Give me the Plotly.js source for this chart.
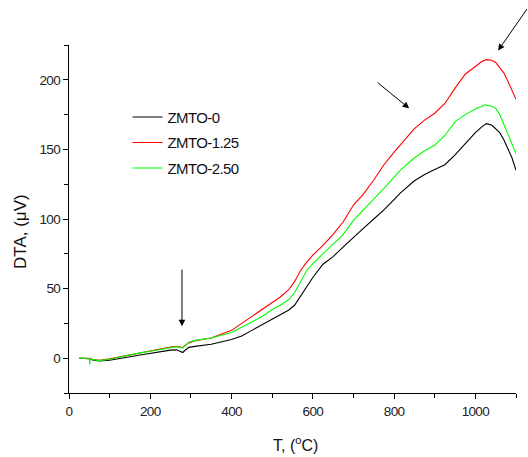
<!DOCTYPE html>
<html>
<head>
<meta charset="utf-8">
<script src="https://cdn.plot.ly/plotly-3.0.1.min.js"></script>
<style>
html,body{margin:0;padding:0;background:#fff}
#chart{width:528px;height:457px}
#chart .xtick text, #chart .ytick text{letter-spacing:-0.7px}
#chart .legendtext{letter-spacing:-0.6px}
</style>
</head>
<body>
<div id="chart"></div>
<script>
const seriesNames = ["ZMTO-0", "ZMTO-1.25", "ZMTO-2.50"];

const tBlack = [25,40,50,60,75,100,125,150,175,200,225,250,265,275,280,285,295,310,350,400,425,450,475,500,520,540,555,570,585,600,625,650,675,700,725,750,775,800,815,850,875,900,925,950,975,1000,1015,1027,1040,1050,1060,1070,1080,1090,1100];
const dtaBlack = [0,0,-0.3,-1.5,-2,-1.5,-0.5,1,2.3,3.5,4.8,5.8,6,4.8,4.1,5.5,7.8,8.5,10,13.5,16,20,24,28,31,34.5,38,45,51,58,67.5,73,80,87,93.5,100,106.5,114,118.6,127.5,132,135.5,139,146,154,162,166,168.5,167.5,165,162,157,151,144,135];

const tRed = [25,40,50,60,75,100,125,150,175,200,225,250,265,275,280,285,295,310,350,400,425,450,475,500,520,540,555,570,585,600,625,650,675,700,725,750,775,800,815,850,875,900,925,950,975,1000,1015,1027,1040,1050,1060,1070,1080,1090,1100];
const dtaRed = [0,0,-0.3,-1,-1.5,-0.5,1,2.5,4,5.3,6.5,8,8.5,7.8,7.7,9,11,12.5,14.5,20,25,30,35,40,44,49,55,63,69,74,81,89,98,110,118,128,139,148,153,165,171,176,183,194,204,210,213,214.5,214,212.5,209,205,199,192,186];

const tGreen = [25,40,50,51,52,60,75,100,125,150,175,200,225,250,265,275,280,285,295,310,350,400,425,450,475,500,520,540,555,570,585,600,625,650,675,700,725,750,775,800,815,850,875,900,925,950,975,1000,1024,1040,1050,1060,1070,1080,1090,1100];
const dtaGreen = [0,0,0,-4.5,-0.5,-1,-1.7,-0.8,0.8,2.3,3.8,5,6.3,7.8,8.3,7.5,7.4,9,11.5,12.8,14.5,18.5,22,26,30,35,38,42,47,55,63,68,75,82,89,99,106.5,114,122,130,135,144,149,153,160,170,175,179,182,181,179.5,175,168,161,154,147];

const xTickVals = [0,200,400,600,800,1000];
const yTickVals = [0,50,100,150,200];
const xTitle = "T, (<sup>o</sup>C)";
const yTitle = "DTA, (\u03bcV)";

const lineW = 1.1;
const traces = [
  {x: tBlack, y: dtaBlack, name: seriesNames[0], mode: "lines", line: {color: "#000000", width: lineW}, legendgroup: "a"},
  {x: tRed, y: dtaRed, name: seriesNames[1], mode: "lines", line: {color: "#ff0000", width: lineW}, legendgroup: "b"},
  {x: tGreen, y: dtaGreen, name: seriesNames[2], mode: "lines", line: {color: "#00ff00", width: lineW}, legendgroup: "c"}
];

const fontFam = "Liberation Sans, Arial, sans-serif";
const arrowStyle = {text: "", showarrow: true, arrowhead: 2, arrowsize: 1.3, arrowwidth: 1, arrowcolor: "#000", xref: "x", yref: "y"};

const layout = {
  width: 528, height: 457,
  margin: {l: 69, r: 12, t: 45, b: 64},
  paper_bgcolor: "#fff", plot_bgcolor: "#fff",
  font: {family: fontFam, size: 12, color: "#222"},
  showlegend: true,
  legend: {x: 0.131, y: 0.84, xanchor: "left", yanchor: "top", bgcolor: "rgba(0,0,0,0)", font: {size: 15, color: "#111"}, traceorder: "grouped", tracegroupgap: 3, itemwidth: 30},
  xaxis: {
    range: [0, 1100], tickvals: xTickVals, ticks: "outside", ticklen: 5, tickwidth: 1, tickcolor: "#000",
    showline: true, linecolor: "#000", linewidth: 1.3, showgrid: false, zeroline: false,
    minor: {dtick: 100, tick0: 0, ticks: "outside", ticklen: 4, tickcolor: "#000", showgrid: false},
    tickfont: {size: 13.5, color: "#222"}
  },
  yaxis: {
    range: [-25, 225], tickvals: yTickVals, ticks: "outside", ticklen: 5, tickwidth: 1, tickcolor: "#000",
    showline: true, linecolor: "#000", linewidth: 1.3, showgrid: false, zeroline: false,
    minor: {dtick: 25, tick0: 0, ticks: "outside", ticklen: 4, tickcolor: "#000", showgrid: false},
    tickfont: {size: 13.5, color: "#222"}
  },
  annotations: [
    Object.assign({}, arrowStyle, {x: 278, y: 23, ax: 0, ay: -58}),
    Object.assign({}, arrowStyle, {x: 837, y: 179.5, ax: -33, ay: -27}),
    Object.assign({}, arrowStyle, {x: 1056, y: 221, ax: 38, ay: -43}),
    {text: xTitle, showarrow: false, xref: "paper", yref: "paper", x: (295 - 69) / 447, y: (393 - 444) / 348, xanchor: "center", yanchor: "middle", font: {size: 16, color: "#111"}},
    {text: yTitle, showarrow: false, xref: "paper", yref: "paper", x: (20 - 69) / 447, y: (393 - 232) / 348, xanchor: "center", yanchor: "middle", textangle: -90, font: {size: 17, color: "#111"}}
  ]
};

Plotly.newPlot("chart", traces, layout, {displayModeBar: false, staticPlot: true});
</script>
</body>
</html>
